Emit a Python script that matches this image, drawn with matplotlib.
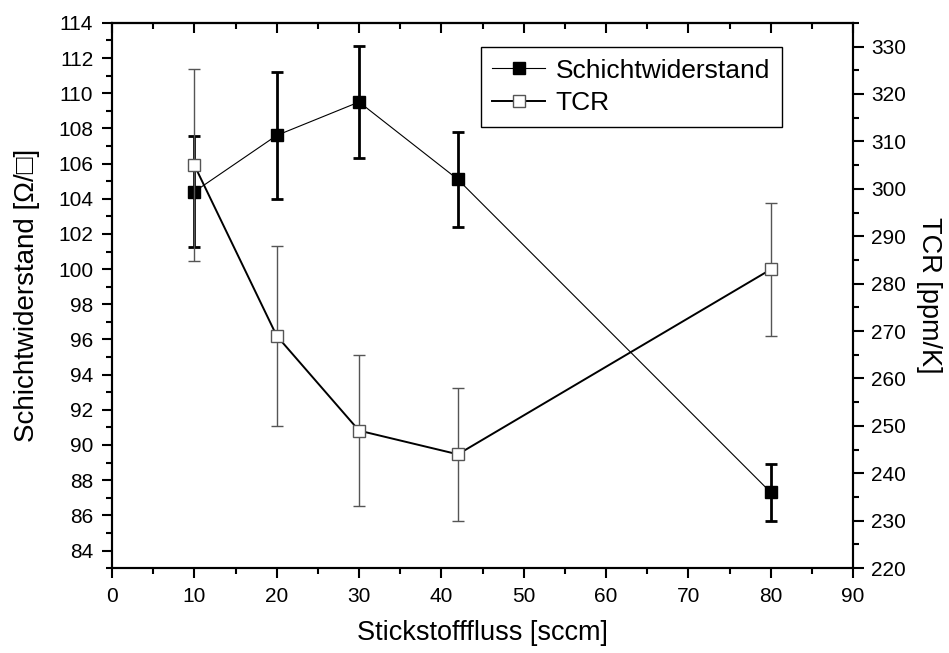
import numpy as np
import matplotlib
matplotlib.use('Agg')
import matplotlib.pyplot as plt
from matplotlib.ticker import MultipleLocator

plt.rcParams['font.family'] = ['Liberation Sans', 'DejaVu Sans']

### Messwerte
stickstoff = [10, 20, 30, 42, 80]                   # sccm
schicht     = [104.4, 107.6, 109.5, 105.1, 87.3]    # Ohm/sq
schicht_err = [3.15, 3.6, 3.2, 2.7, 1.6]
tcr         = [305, 269, 249, 244, 283]             # ppm/K
tcr_err     = [20.3, 19, 16, 14, 14]

fig = plt.figure(figsize=(9.49, 6.53), dpi=100)
ax = fig.add_axes([0.118, 0.130, 0.781, 0.835])
ax2 = ax.twinx()

l1 = ax.errorbar(stickstoff, schicht, yerr=schicht_err, color='black', lw=0.8,
                 marker='s', ms=8.5, mfc='black', mec='black',
                 ecolor='black', elinewidth=2, capsize=4.5, capthick=2,
                 label='Schichtwiderstand')
l2 = ax2.errorbar(stickstoff, tcr, yerr=tcr_err, color='black', lw=1.4,
                  marker='s', ms=8, mfc='white', mec='#555555', mew=1,
                  ecolor='#555555', elinewidth=1, capsize=4.5, capthick=1,
                  label='TCR')

ax.set_xlim(0, 90)
ax.set_ylim(83, 114)
ax2.set_ylim(220, 335)

ax.xaxis.set_major_locator(MultipleLocator(10))
ax.xaxis.set_minor_locator(MultipleLocator(5))
ax.yaxis.set_major_locator(MultipleLocator(2))
ax.yaxis.set_minor_locator(MultipleLocator(1))
ax2.yaxis.set_major_locator(MultipleLocator(10))
ax2.yaxis.set_minor_locator(MultipleLocator(5))

for a in (ax, ax2):
    for s in a.spines.values():
        s.set_linewidth(1.5)

fs_tick = 15
ax.tick_params(axis='x', which='both', direction='out', top=False, labelsize=fs_tick,
               width=1.5, pad=6)
ax.tick_params(axis='x', which='major', length=7.5)
ax.tick_params(axis='x', which='minor', length=4)
ax.tick_params(axis='y', which='both', direction='out', right=False, labelsize=fs_tick,
               width=1.5, pad=6)
ax.tick_params(axis='y', which='major', length=7.5)
ax.tick_params(axis='y', which='minor', length=4)
ax2.tick_params(axis='y', which='both', direction='out', labelsize=fs_tick, width=1.5, pad=5)
ax2.tick_params(axis='y', which='major', length=8)
ax2.tick_params(axis='y', which='minor', length=4)

# Ticks oben nach innen zeigen lassen
sec = ax.secondary_xaxis('top')
sec.xaxis.set_major_locator(MultipleLocator(10))
sec.xaxis.set_minor_locator(MultipleLocator(5))
sec.tick_params(axis='x', which='both', direction='in', labeltop=False, width=1.5)
sec.tick_params(axis='x', which='major', length=7)
sec.tick_params(axis='x', which='minor', length=4)
sec.spines['top'].set_linewidth(1.5)

ax.set_xlabel('Stickstofffluss [sccm]', fontsize=19.5, labelpad=10)
ax.set_ylabel('Schichtwiderstand [Ω/□]', fontsize=20, labelpad=13,
              family=['Liberation Sans', 'DejaVu Sans'])
ax2.set_ylabel('TCR [ppm/K]', fontsize=19.5, rotation=270, labelpad=26)

leg = ax2.legend([l1[0], l2[0]], ['Schichtwiderstand', 'TCR'], loc='upper right',
                 bbox_to_anchor=(0.904, 0.956), fontsize=19, frameon=True,
                 fancybox=False, edgecolor='black', framealpha=1,
                 handlelength=2.0, handletextpad=0.4, borderpad=0.45,
                 labelspacing=0.33, borderaxespad=0)
leg.get_frame().set_linewidth(1.0)

fig.savefig('out.png', dpi=100)
